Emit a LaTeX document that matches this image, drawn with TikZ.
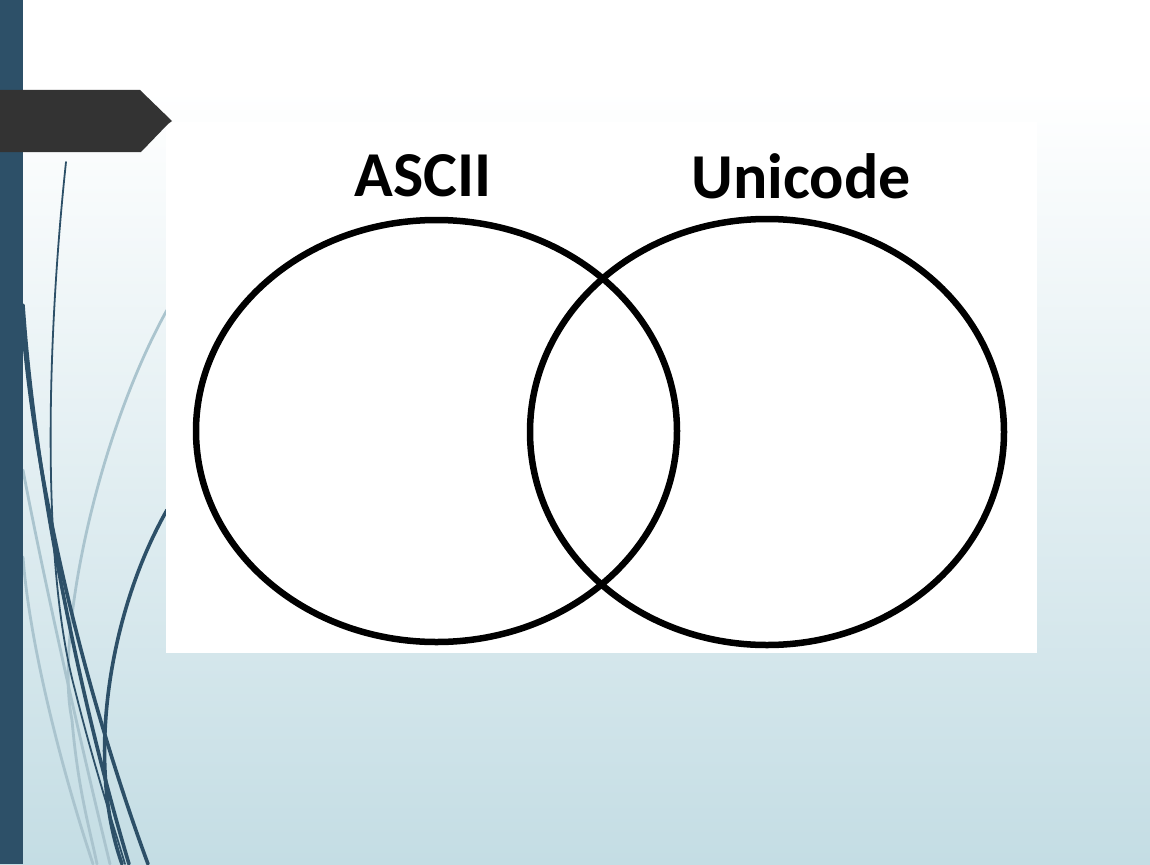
\documentclass[tikz,border=0pt]{standalone}
\usepackage{fontspec}
\setmainfont{Carlito}
\usetikzlibrary{shapes.geometric}
\definecolor{barblue}{RGB}{45,80,104}
\definecolor{bgbottom}{RGB}{196,221,228}
\definecolor{lightcurve}{RGB}{170,196,206}
\definecolor{banner}{RGB}{51,51,51}
\tikzset{
  darkcurve/.style={draw=barblue, line width=3.6pt, line cap=round},
  thincurve/.style={draw=barblue, line width=1.8pt, line cap=round},
  palecurve/.style={draw=lightcurve, line width=2.8pt, line cap=round},
  venn/.style={ellipse, draw=black, line width=6.5pt, inner sep=0pt},
  title/.style={font=\bfseries\fontsize{64}{72}\selectfont, inner sep=0pt}
}
\begin{document}
\begin{tikzpicture}[x=1pt,y=-1pt]
\useasboundingbox (0,0) rectangle (1150,864);
% background gradient
\fill[white] (0,0) rectangle (1150,91);
\shade[top color=white, bottom color=bgbottom] (0,90) rectangle (1150,864);
% decorative curves
\draw[palecurve] (167,310) .. controls (95,440) and (55,640) .. (72,720) .. controls (78,790) and (90,830) .. (97,864);
\draw[palecurve] (23,470) .. controls (40,560) and (75,720) .. (110,864);
\draw[palecurve] (23,557) .. controls (30,650) and (65,780) .. (93,864);
\draw[thincurve] (66,162) .. controls (48,330) and (40,560) .. (75,690) .. controls (95,770) and (115,830) .. (125,864);
\draw[darkcurve] (23,305) .. controls (35,480) and (80,700) .. (129,864);
\draw[darkcurve] (23,330) .. controls (40,520) and (95,720) .. (148,864);
\draw[darkcurve] (167,510) .. controls (110,610) and (85,760) .. (122,864);
% left bar
\fill[barblue] (0,0) rectangle (23,864);
% white picture area
\fill[white] (166,122) rectangle (1037,653);
% banner
\fill[banner] (0,90) -- (140,90) -- (172,121) -- (168,124) -- (141,152) -- (0,152) -- cycle;
% Venn diagram
\node[venn, minimum width=481pt, minimum height=422pt] (ascii) at (436.5,431) {};
\node[venn, minimum width=474pt, minimum height=426pt] (unicode) at (767,432) {};
\node[title] (asciilabel) at (423,176) {ASCII};
\node[title] (unicodelabel) at (801,176) {Unicode};
\end{tikzpicture}
\end{document}
